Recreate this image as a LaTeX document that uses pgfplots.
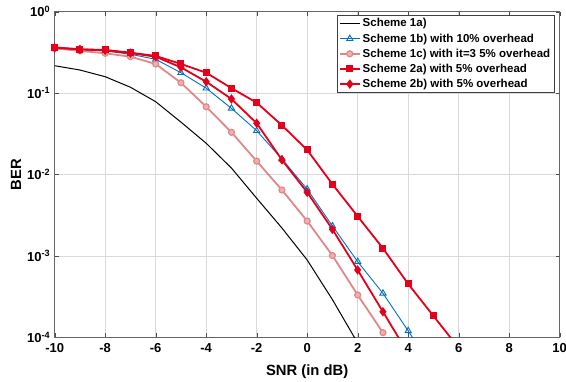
\documentclass[border=0pt]{standalone}
\usepackage{pgfplots}
\pgfplotsset{compat=1.18}
\usepackage{fontspec}
\setmainfont{Liberation Sans}
\definecolor{mblue}{RGB}{0,114,189}
\definecolor{mpink}{RGB}{226,135,135}
\definecolor{mred}{RGB}{228,0,27}
\begin{document}
\begin{tikzpicture}
\begin{axis}[
  scale only axis,
  width=505pt, height=325.6pt,
  xmin=-10, xmax=10, ymin=1e-4, ymax=1,
  ymode=log,
  log basis y=10,
  xtick={-10,-8,-6,-4,-2,0,2,4,6,8,10},
  xticklabels={-10,-8,-6,-4,-2,0,2,4,6,8,10},
  ytick={1e-4,1e-3,1e-2,1e-1,1},
  yticklabels={10\textsuperscript{-4},10\textsuperscript{-3},10\textsuperscript{-2},10\textsuperscript{-1},10\textsuperscript{0}},
  tick label style={font=\fontsize{13}{14}\selectfont\bfseries},
  xticklabel style={yshift=-3pt},
  yticklabel style={xshift=-1pt},
  xlabel={SNR (in dB)},
  ylabel={BER},
  label style={font=\fontsize{14.8}{16}\selectfont\bfseries},
  xlabel style={yshift=-5pt},
  ylabel style={yshift=-1pt},
  grid=both,
  major grid style={draw=black!15, line width=0.5pt},
  minor grid style={draw=black!15, dotted, line width=0.5pt},
  minor x tick num=0,
  axis line style={draw=black!60, line width=0.6pt},
  tick style={draw=black!70},
  tick align=inside,
  major tick length=4pt,
  minor tick length=2.5pt,
  legend style={at={(0.9887,0.99)}, anchor=north east, draw=black!75, fill=white,
    font=\fontsize{11.5}{13}\selectfont\bfseries, row sep=1.3pt, inner sep=1.5pt,
    cells={anchor=west}},
  legend image code/.code={\draw[mark repeat=2,mark phase=2] plot coordinates {(0pt,0pt) (10pt,0pt) (20pt,0pt)};},
  legend cell align=left,
]
\addplot[black, line width=1pt, mark=none] coordinates {
(-10,0.217) (-9,0.192) (-8,0.159) (-7,0.118) (-6,0.0784) (-5,0.044) (-4,0.0242)
(-3,0.012) (-2,0.0051) (-1,0.0022) (0,8.9e-4) (1,2.9e-4) (2,8.5e-5)};
\addlegendentry{Scheme 1a)}
\addplot[mblue, line width=0.9pt, mark=triangle, mark size=3.6pt, mark options={line width=0.9pt}] coordinates {
(-10,0.36) (-9,0.34) (-8,0.33) (-7,0.30) (-6,0.26) (-5,0.178) (-4,0.115) (-3,0.065)
(-2,0.0345) (-1,0.0155) (0,0.0066) (1,0.00233) (2,8.5e-4) (3,3.47e-4) (4,1.2e-4) (5,4e-5)};
\addlegendentry{Scheme 1b) with 10\% overhead}
\addplot[mpink, line width=1.8pt, mark=*, mark size=3pt, mark options={line width=1.2pt, draw=mpink, fill=mpink!65}] coordinates {
(-10,0.355) (-9,0.33) (-8,0.308) (-7,0.28) (-6,0.228) (-5,0.134) (-4,0.068) (-3,0.033)
(-2,0.0146) (-1,0.00645) (0,0.00268) (1,0.00101) (2,3.31e-4) (3,1.14e-4)};
\addlegendentry{Scheme 1c) with it=3 5\% overhead}
\addplot[mred, line width=1.8pt, mark=square*, mark size=2.6pt] coordinates {
(-10,0.365) (-9,0.345) (-8,0.339) (-7,0.314) (-6,0.286) (-5,0.228) (-4,0.178) (-3,0.115)
(-2,0.0762) (-1,0.0402) (0,0.020) (1,0.0076) (2,0.00306) (3,0.00124) (4,4.52e-4) (5,1.83e-4) (6,7.4e-5)};
\addlegendentry{Scheme 2a) with 5\% overhead}
\addplot[mred, line width=1.8pt, mark=diamond*, mark size=3.3pt] coordinates {
(-10,0.36) (-9,0.345) (-8,0.335) (-7,0.31) (-6,0.28) (-5,0.207) (-4,0.138) (-3,0.0847)
(-2,0.0426) (-1,0.0151) (0,0.00604) (1,0.00212) (2,6.71e-4) (3,2.06e-4) (4,6.3e-5)};
\addlegendentry{Scheme 2b) with 5\% overhead}
\end{axis}
\pgfresetboundingbox
\path (-54.7pt,-44.7pt) rectangle (511.3pt,337.3pt);
\end{tikzpicture}
\end{document}
